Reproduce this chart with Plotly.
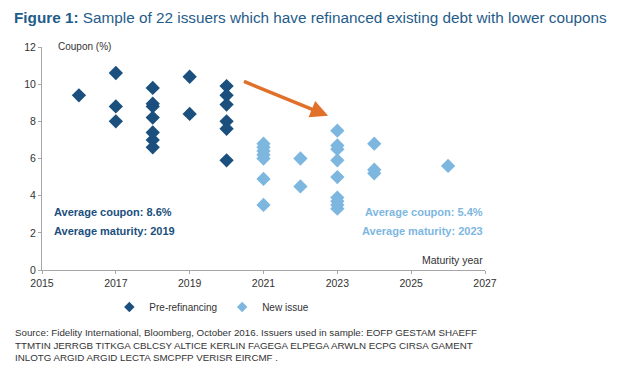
import plotly.graph_objects as go

# Pre-refinancing (maturity year, coupon %)
pre_years = [2016, 2017, 2017, 2017, 2018, 2018, 2018, 2018, 2018, 2018, 2018,
             2019, 2019, 2020, 2020, 2020, 2020, 2020, 2020]
pre_coupons = [9.4, 10.6, 8.8, 8.0, 9.8, 8.95, 8.8, 8.2, 7.4, 7.0, 6.6,
               10.4, 8.4, 9.9, 9.4, 8.9, 8.0, 7.6, 5.9]

# New issue
new_years = [2021, 2021, 2021, 2021, 2021, 2021, 2021, 2022, 2022,
             2023, 2023, 2023, 2023, 2023, 2023, 2023, 2023, 2023,
             2024, 2024, 2024, 2026]
new_coupons = [6.8, 6.6, 6.4, 6.2, 6.0, 4.9, 3.5, 6.0, 4.5,
               7.5, 6.7, 6.5, 5.9, 5.0, 3.9, 3.7, 3.5, 3.3,
               6.8, 5.4, 5.2, 5.6]

x_ticks = [2015, 2017, 2019, 2021, 2023, 2025, 2027]
y_ticks = [0, 2, 4, 6, 8, 10, 12]

DARK = "#1B4F7E"
LIGHT = "#7DB7E0"
FONT = "Liberation Sans, Arial, sans-serif"

fig = go.Figure()
fig.add_trace(go.Scatter(x=pre_years, y=pre_coupons, mode="markers", name="Pre-refinancing",
                         showlegend=False,
                         marker=dict(symbol="diamond", size=11, color=DARK)))
fig.add_trace(go.Scatter(x=new_years, y=new_coupons, mode="markers", name="New issue",
                         showlegend=False,
                         marker=dict(symbol="diamond", size=11, color=LIGHT)))
# legend entries (smaller symbols, as in the reference legend)
fig.add_trace(go.Scatter(x=[None], y=[None], mode="markers", name="Pre-refinancing",
                         marker=dict(symbol="diamond", size=8, color=DARK)))
fig.add_trace(go.Scatter(x=[None], y=[None], mode="markers", name="New issue",
                         marker=dict(symbol="diamond", size=8, color=LIGHT)))

fig.update_layout(
    width=614, height=379,
    margin=dict(l=34, r=137, t=39, b=117),
    paper_bgcolor="white", plot_bgcolor="white",
    font=dict(family=FONT, size=10, color="#333333"),
    showlegend=True,
    legend=dict(orientation="h", x=0.152, xanchor="left", y=-0.166, yanchor="middle",
                font=dict(size=10, color="#333333"), itemsizing="trace",
                itemwidth=30, bgcolor="rgba(0,0,0,0)"),
    xaxis=dict(range=[2015, 2027], tickvals=x_ticks, showgrid=False, zeroline=False,
               showline=True, linecolor="#A6A6A6", ticks="outside", ticklen=3,
               tickcolor="#A6A6A6", tickfont=dict(size=10.5, color="#333333")),
    yaxis=dict(range=[0, 12], tickvals=y_ticks, showgrid=False, zeroline=False,
               showline=True, linecolor="#A6A6A6", ticks="outside", ticklen=3,
               tickcolor="#A6A6A6", tickfont=dict(size=10.5, color="#333333")),
)

annotations = [
    dict(text="<b>Figure 1:</b> Sample of 22 issuers which have refinanced existing debt with lower coupons",
         xref="paper", yref="paper", x=-0.0677, y=1.1345, xanchor="left", yanchor="middle",
         showarrow=False, font=dict(size=15.3, color="#1F5C8A", family=FONT)),
    dict(text="Coupon (%)", xref="paper", yref="paper", x=0.032, y=1.004, xanchor="left",
         yanchor="middle", showarrow=False, font=dict(size=10, color="#333333")),
    dict(text="Maturity year", xref="paper", yref="paper", x=1.0, y=0.045, xanchor="right",
         yanchor="middle", showarrow=False, font=dict(size=10.5, color="#333333")),
    dict(text="<b>Average coupon: 8.6%</b>", xref="paper", yref="paper", x=0.022, y=0.26,
         xanchor="left", yanchor="middle", showarrow=False, font=dict(size=11, color=DARK)),
    dict(text="<b>Average maturity: 2019</b>", xref="paper", yref="paper", x=0.022, y=0.177,
         xanchor="left", yanchor="middle", showarrow=False, font=dict(size=11, color=DARK)),
    dict(text="<b>Average coupon: 5.4%</b>", xref="paper", yref="paper", x=1.0, y=0.26,
         xanchor="right", yanchor="middle", showarrow=False, font=dict(size=11, color=LIGHT)),
    dict(text="<b>Average maturity: 2023</b>", xref="paper", yref="paper", x=1.0, y=0.177,
         xanchor="right", yanchor="middle", showarrow=False, font=dict(size=11, color=LIGHT)),
    dict(x=2022.75, y=8.3, ax=2020.43, ay=10.18, xref="x", yref="y", axref="x", ayref="y",
         showarrow=True, arrowhead=2, arrowsize=1, arrowwidth=3.5, arrowcolor="#E0702A", text=""),
    dict(text="Source: Fidelity International, Bloomberg, October 2016. Issuers used in sample: EOFP GESTAM SHAEFF<br>"
              "TTMTIN JERRGB TITKGA CBLCSY ALTICE KERLIN FAGEGA ELPEGA ARWLN ECPG CIRSA GAMENT<br>"
              "INLOTG ARGID ARGID LECTA SMCPFP VERISR EIRCMF .",
         xref="paper", yref="paper", x=-0.0655, y=-0.245, xanchor="left", yanchor="top", align="left",
         showarrow=False, font=dict(size=9.75, color="#333333")),
]
fig.update_layout(annotations=annotations)

fig.write_html("out.html")
